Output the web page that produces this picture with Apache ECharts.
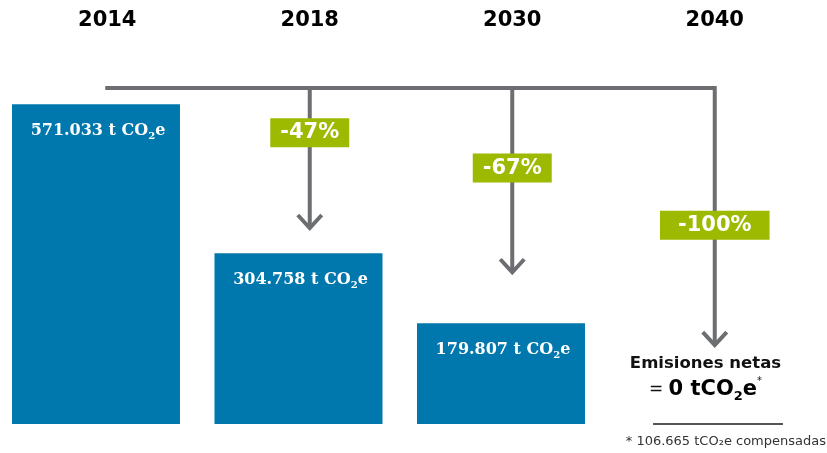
<!DOCTYPE html>
<html>
<head>
<meta charset="utf-8">
<script src="https://cdn.jsdelivr.net/npm/echarts@6/dist/echarts.min.js"></script>
<style>
  html, body { margin: 0; padding: 0; background: #fff; }
  #chart { width: 827px; height: 453px; }
</style>
</head>
<body>
<div id="chart"></div>
<script>
// years and emissions (t CO2e)
const years = ['2014', '2018', '2030', '2040'];
const emissions = [571033, 304758, 179807, 0];
// reduction badges vs 2014, shown on the arrows for 2018, 2030, 2040
const reductions = ['-47%', '-67%', '-100%'];
const arrowTips = [350000, 271000, 141000];   // where each arrow stops (t CO2e scale)
const badgeLevels = [520000, 457000, 355000]; // where each badge sits
const connectorLevel = 600000;
const offsetTonnes = 106665;

const BLUE = '#0077ad';
const GREEN = '#9dba00';
const GREY = '#6d6e71';

function fmt(v) {
    return String(v).replace(/\B(?=(\d{3})+(?!\d))/g, '.');
}

var chart = echarts.init(document.getElementById('chart'));

var serifRich = {
    n: { fontFamily: 'DejaVu Serif', fontWeight: 'bold', fontSize: 16, color: '#fff', lineHeight: 20 },
    sub: { fontFamily: 'DejaVu Serif', fontWeight: 'bold', fontSize: 10, color: '#fff', lineHeight: 20, verticalAlign: 'bottom' }
};

var barData = emissions.map(function (v, i) {
    if (v > 0) return [i, v];
    // the zero year gets its own text label
    return {
        value: [i, v],
        label: {
            show: true,
            position: 'top',
            distance: 21,
            color: '#000',
            formatter: '{a|Emisiones netas}\n{eq|= }{big|' + v + ' tCO}{bsub|2}{big|e}{sup|*}',
            rich: {
                a: { fontFamily: 'DejaVu Sans', fontWeight: 'bold', fontSize: 16.5, color: '#111', lineHeight: 25 },
                eq: { fontFamily: 'DejaVu Sans', fontSize: 17, color: '#111', lineHeight: 27 },
                big: { fontFamily: 'DejaVu Sans', fontWeight: 'bold', fontSize: 21, color: '#000', lineHeight: 27 },
                bsub: { fontFamily: 'DejaVu Sans', fontWeight: 'bold', fontSize: 13, color: '#000', lineHeight: 27, verticalAlign: 'bottom' },
                sup: { fontFamily: 'DejaVu Sans', fontSize: 10, color: '#111', verticalAlign: 'top', lineHeight: 27 }
            }
        }
    };
});

var option = {
    animation: false,
    grid: [
        { left: 0, right: 0, top: 32, bottom: 29 },
        { left: 6, width: 810, top: 32, bottom: 29 }
    ],
    xAxis: [
        {
            // value axis so the bar slots can sit where the reference puts them
            gridIndex: 0, type: 'value', min: -0.474, max: 3.61, show: false,
            splitLine: { show: false }
        },
        {
            gridIndex: 1, type: 'category', data: years, position: 'top',
            axisLine: { show: false }, axisTick: { show: false },
            axisLabel: {
                margin: 1,
                fontFamily: 'DejaVu Sans', fontWeight: 'bold', fontSize: 21, color: '#000'
            }
        }
    ],
    yAxis: [
        { gridIndex: 0, type: 'value', min: 0, max: 700000, show: false, splitLine: { show: false } },
        { gridIndex: 1, type: 'value', min: 0, max: 700000, show: false, splitLine: { show: false } }
    ],
    series: [
        {
            type: 'bar',
            xAxisIndex: 0, yAxisIndex: 0,
            barWidth: 168,
            itemStyle: { color: BLUE },
            data: barData,
            label: {
                show: true,
                position: 'insideTop',
                distance: 17,
                offset: [2, 0],
                color: '#fff',
                rich: serifRich,
                formatter: function (p) { return '{n|' + fmt(p.value[1]) + ' t CO}{sub|2}{n|e}'; }
            }
        },
        {
            type: 'custom',
            xAxisIndex: 1, yAxisIndex: 1,
            data: reductions.map(function (r, i) { return [i + 1, arrowTips[i], badgeLevels[i]]; }),
            renderItem: function (params, api) {
                var idx = api.value(0);
                var top = api.coord([idx, connectorLevel]);
                var tip = api.coord([idx, api.value(1)]);
                var badge = api.coord([idx, api.value(2)]);
                var text = reductions[params.dataIndex];
                var children = [];
                if (params.dataIndex === 0) {
                    var start = api.coord([0, connectorLevel]);
                    var end = api.coord([years.length - 1, connectorLevel]);
                    children.push({
                        type: 'line',
                        shape: { x1: start[0] - 2, y1: start[1], x2: end[0], y2: end[1] },
                        style: { stroke: GREY, lineWidth: 4 }
                    });
                }
                children.push({
                    type: 'line',
                    shape: { x1: tip[0], y1: top[1] - 2, x2: tip[0], y2: tip[1] - 2 },
                    style: { stroke: GREY, lineWidth: 4 }
                });
                children.push({
                    type: 'polyline',
                    shape: { points: [[tip[0] - 12, tip[1] - 13], [tip[0], tip[1]], [tip[0] + 12, tip[1] - 13]] },
                    style: { stroke: GREY, lineWidth: 4, fill: null, lineJoin: 'miter' }
                });
                var pad = text.length > 4 ? 18 : 10;
                children.push({
                    type: 'text',
                    style: {
                        text: text,
                        x: badge[0], y: badge[1],
                        align: 'center', verticalAlign: 'middle',
                        fill: '#fff',
                        font: 'bold 21px "DejaVu Sans"',
                        backgroundColor: GREEN,
                        padding: [5, pad, 3, pad]
                    }
                });
                return { type: 'group', children: children };
            }
        }
    ],
    graphic: [
        {
            type: 'line',
            shape: { x1: 653, y1: 424, x2: 783, y2: 424 },
            style: { stroke: '#555', lineWidth: 2 }
        },
        {
            type: 'text',
            right: 1, top: 435,
            style: {
                text: '* ' + fmt(offsetTonnes) + ' tCO₂e compensadas',
                fill: '#333',
                font: '13px "DejaVu Sans"'
            }
        }
    ]
};

chart.setOption(option);
</script>
</body>
</html>
